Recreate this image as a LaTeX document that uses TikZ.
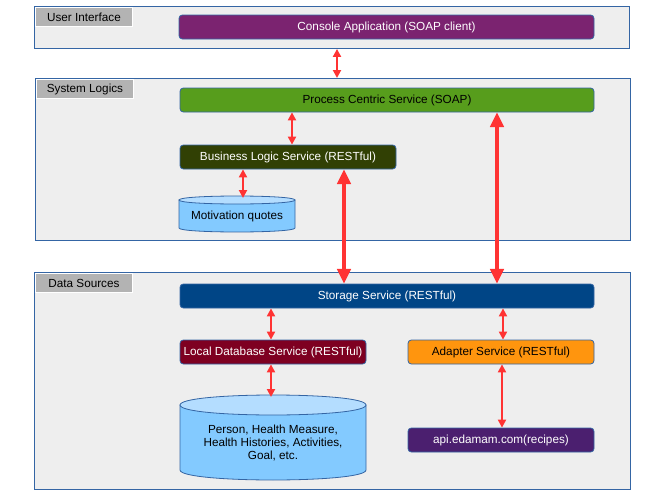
\documentclass[tikz,border=0pt]{standalone}
\usepackage{fontspec}
\setmainfont{Liberation Sans}
\usetikzlibrary{arrows.meta}
\definecolor{panelfill}{HTML}{EEEEEE}
\definecolor{panelline}{HTML}{3465A4}
\definecolor{labelfill}{HTML}{B3B3B3}
\definecolor{consolec}{HTML}{7B2370}
\definecolor{processc}{HTML}{579D1C}
\definecolor{businessc}{HTML}{314004}
\definecolor{storagec}{HTML}{004586}
\definecolor{localc}{HTML}{7E0021}
\definecolor{adapterc}{HTML}{FF950E}
\definecolor{apic}{HTML}{4B1F6F}
\definecolor{cylbody}{HTML}{83CAFF}
\definecolor{cyltop}{HTML}{B4DDFF}
\definecolor{arrred}{HTML}{FF3333}
\tikzset{
  panel/.style={draw=panelline, fill=panelfill, line width=0.7pt, anchor=north west, inner sep=0pt},
  plabel/.style={draw=white, fill=labelfill, line width=0.7pt, anchor=north west, inner sep=0pt,
    minimum width=72.75pt, minimum height=14.25pt, text=black},
  svc/.style={draw=panelline, rounded corners=2.5pt, line width=0.6pt, minimum height=18pt, inner sep=0pt},
  cyl/.style={draw=panelline, line width=0.6pt},
  sarr/.style={draw=arrred, line width=1.6pt, {Triangle[length=6pt,width=6pt]}-{Triangle[length=6pt,width=6pt]}},
  barr/.style={draw=arrred, line width=2.6pt, {Triangle[length=11pt,width=10pt]}-{Triangle[length=11pt,width=10pt]}},
}
\begin{document}
\begin{tikzpicture}[x=0.75pt, y=-0.75pt, font=\fontsize{8.8}{10.5}\selectfont]
\useasboundingbox[fill=white] (0,0) rectangle (661,496);

% panels
\node[panel, minimum width=446.25pt, minimum height=31.5pt] (ui) at (34,6) {};
\node[panel, minimum width=446.25pt, minimum height=121.5pt] (sys) at (35,78) {};
\node[panel, minimum width=447pt, minimum height=162.75pt] (data) at (34,272) {};
\node[plabel] (uil) at (35,7) {User Interface};
\node[plabel] (sysl) at (36,79) {System Logics};
\node[plabel] (datal) at (35,273) {Data Sources};

% service boxes
\node[svc, fill=consolec, text=white, minimum width=311.25pt] (console) at (386.5,27) {Console Application (SOAP client)};
\node[svc, fill=processc, text=black, minimum width=310.5pt] (process) at (387,100) {Process Centric Service (SOAP)};
\node[svc, fill=businessc, text=white, minimum width=162pt] (business) at (288,157) {Business Logic Service (RESTful)};
\node[svc, fill=storagec, text=white, minimum width=310.5pt] (storage) at (387,296) {Storage Service (RESTful)};
\node[svc, fill=localc, text=white, minimum width=139.5pt] (localdb) at (273,352) {Local Database Service (RESTful)};
\node[svc, fill=adapterc, text=black, minimum width=139.5pt] (adapter) at (501,352) {Adapter Service (RESTful)};
\node[svc, fill=apic, text=white, minimum width=139.5pt] (api) at (501,440) {api.edamam.com(recipes)};

% cylinders
\path[cyl, fill=cylbody] (179,200) -- (179,228) .. controls (179,233.33) and (295,233.33) .. (295,228) -- (295,200) -- cycle;
\path[cyl, fill=cyltop] (179,200) .. controls (179,194.67) and (295,194.67) .. (295,200) .. controls (295,205.33) and (179,205.33) .. (179,200) -- cycle;
\node[inner sep=0pt, minimum width=87pt, minimum height=27pt] (motiv) at (237,214) {};
\node (motivt) at (237,216) {Motivation quotes};

\path[cyl, fill=cylbody] (180,405) -- (180,470) .. controls (180,483.33) and (366,483.33) .. (366,470) -- (366,405) -- cycle;
\path[cyl, fill=cyltop] (180,405) .. controls (180,391.67) and (366,391.67) .. (366,405) .. controls (366,418.33) and (180,418.33) .. (180,405) -- cycle;
\node[inner sep=0pt, minimum width=139.5pt, minimum height=63.75pt] (db) at (273,437.5) {};
\node[align=center, font=\fontsize{8.8}{9.8}\selectfont] (dbt) at (273,443) {Person, Health Measure,\\Health Histories, Activities,\\Goal, etc.};

% helper coordinates
\coordinate (x337) at (337,0);
\coordinate (x292) at (292,0);
\coordinate (x243) at (243,0);
\coordinate (x344) at (344,0);
\coordinate (x497) at (497,0);
\coordinate (x271) at (271,0);
\coordinate (x503) at (503,0);
\coordinate (x502) at (502,0);
\coordinate (motivtop) at (243,198);
\coordinate (dbtop) at (271,397);

% arrows
\draw[sarr] (ui.south -| x337) -- (sys.north -| x337);
\draw[sarr] (process.south -| x292) -- (business.north -| x292);
\draw[sarr] (business.south -| x243) -- (motivtop);
\draw[barr] (business.south -| x344) -- (storage.north -| x344);
\draw[barr] (process.south -| x497) -- (storage.north -| x497);
\draw[sarr] (storage.south -| x271) -- (localdb.north -| x271);
\draw[sarr] (storage.south -| x503) -- (adapter.north -| x503);
\draw[sarr] (localdb.south -| x271) -- (dbtop);
\draw[sarr] (adapter.south -| x502) -- (api.north -| x502);
\end{tikzpicture}
\end{document}
